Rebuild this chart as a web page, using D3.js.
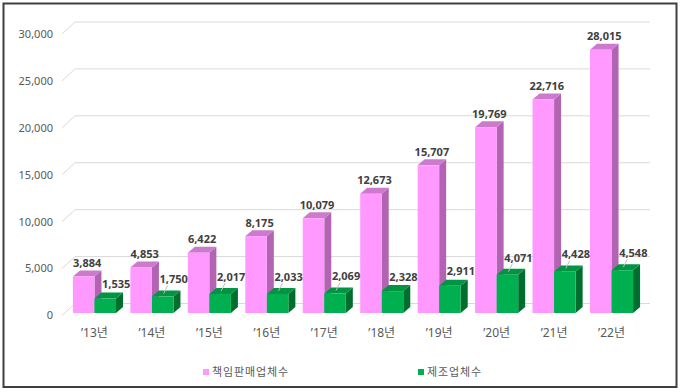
<!DOCTYPE html>
<html><head><meta charset="utf-8">
<script src="https://cdn.jsdelivr.net/npm/d3@7"></script>
<style>body{margin:0;background:#fff;}svg{display:block;}</style>
</head><body>
<svg id="chart" width="680" height="392"></svg>
<script>
const categories = ['’13년','’14년','’15년','’16년','’17년','’18년','’19년','’20년','’21년','’22년'];
const sellerValues = [3884, 4853, 6422, 8175, 10079, 12673, 15707, 19769, 22716, 28015];
const makerValues = [1535, 1750, 2017, 2033, 2069, 2328, 2911, 4071, 4428, 4548];
const makerLeader = [false, true, true, true, true, false, false, true, true, true];
const yTickValues = [0, 5000, 10000, 15000, 20000, 25000, 30000];
const seriesNames = ['책임판매업체수', '제조업체수'];

const svg = d3.select('#chart');
const font = "'Noto Sans','Noto Sans CJK KR',sans-serif";
const colors = {
  seller: {front:'#FF99FF', top:'#CC7ACC', side:'#B263B2'},
  maker:  {front:'#00B050', top:'#009443', side:'#006F2E'}
};
const depth = {dx: 7, dy: -6};
const floorDepth = {dx: 13, dy: -12};

// scales
const yFront = d3.scaleLinear().domain([0, 30000]).range([315.5, 34]);
const yBar = d3.scaleLinear().domain([0, 30000]).range([313, 31]);
const x0 = d3.scaleBand().domain(categories).range([62, 644]).paddingInner(0.25).paddingOuter(0.19);
const x1 = d3.scaleBand().domain(['seller','maker']).range([0, x0.bandwidth()]);

// outer border
svg.append('rect').attr('x',3.5).attr('y',3.5).attr('width',673).attr('height',383.5)
  .attr('fill','none').attr('stroke','#3f3f3f').attr('stroke-width',2);

// gridlines
const gridG = svg.append('g');
const plotLeft = 62, plotRight = 637;
yTickValues.forEach(v => {
  const yf = yFront(v);
  gridG.append('path')
    .attr('d', `M${plotLeft},${yf}L${plotLeft+floorDepth.dx},${yf+floorDepth.dy}L${plotRight+floorDepth.dx},${yf+floorDepth.dy}`)
    .attr('fill','none').attr('stroke','#D9D9D9').attr('stroke-width',1);
});

// y axis labels
svg.append('g').selectAll('text').data(yTickValues).join('text')
  .attr('x', 53).attr('y', d => yFront(d)).attr('dy','0.35em')
  .attr('text-anchor','end').attr('font-family', font).attr('font-size', 11)
  .attr('fill','#595959').text(d => d3.format(',')(d));

// bars
function bar3d(g, x, w, v, c) {
  const t = yBar(v), b = yBar(0);
  const dx = depth.dx, dy = depth.dy;
  g.append('path').attr('d', `M${x+w},${t}L${x+w+dx},${t+dy}L${x+w+dx},${b+dy}L${x+w},${b}Z`).attr('fill', c.side);
  g.append('path').attr('d', `M${x},${t}L${x+dx},${t+dy}L${x+w+dx},${t+dy}L${x+w},${t}Z`).attr('fill', c.top);
  g.append('rect').attr('x', x).attr('y', t).attr('width', w).attr('height', b - t).attr('fill', c.front);
}
const barsG = svg.append('g');
const labelsG = svg.append('g');
categories.forEach((cat, i) => {
  const gx = x0(cat);
  const w = x1.bandwidth();
  const xs = gx + x1('seller'), xm = gx + x1('maker');
  bar3d(barsG, xs, w, sellerValues[i], colors.seller);
  bar3d(barsG, xm, w, makerValues[i], colors.maker);

  labelsG.append('text')
    .attr('x', xs + w/2 + depth.dx/2).attr('y', yBar(sellerValues[i]) - 13.5).attr('dy','0.35em')
    .attr('text-anchor','middle').attr('font-family', font).attr('font-size', 11).attr('font-weight','bold')
    .attr('fill','#404040').text(d3.format(',')(sellerValues[i]));

  const mt = yBar(makerValues[i]);
  const lead = makerLeader[i];
  const lx = xm + w/2 + 11, ly = mt - (lead ? 17 : 14);
  if (lead) {
    labelsG.append('line')
      .attr('x1', xm + w/2 + 1).attr('y1', mt - 3)
      .attr('x2', lx - 6).attr('y2', ly + 6)
      .attr('stroke','#BFBFBF').attr('stroke-width',1);
  }
  labelsG.append('text')
    .attr('x', lx).attr('y', ly).attr('dy','0.35em')
    .attr('text-anchor','middle').attr('font-family', font).attr('font-size', 11).attr('font-weight','bold')
    .attr('fill','#404040').text(d3.format(',')(makerValues[i]));
});

// category labels
svg.append('g').selectAll('text').data(categories).join('text')
  .attr('x', d => x0(d) + x0.bandwidth()/2).attr('y', 333).attr('dy','0.35em')
  .attr('text-anchor','middle').attr('font-family', font).attr('font-size', 12)
  .attr('fill','#595959').text(d => d);

// legend
const legendItems = [
  {name: seriesNames[0], color: colors.seller.front, x: 203},
  {name: seriesNames[1], color: colors.maker.front, x: 418}
];
const lg = svg.append('g');
legendItems.forEach(it => {
  lg.append('rect').attr('x', it.x).attr('y', 369).attr('width', 6).attr('height', 6).attr('fill', it.color);
  lg.append('text').attr('x', it.x + 9).attr('y', 372).attr('dy','0.35em')
    .attr('font-family', font).attr('font-size', 11).attr('letter-spacing', 0.9)
    .attr('fill','#595959').text(it.name);
});
</script>
</body></html>
